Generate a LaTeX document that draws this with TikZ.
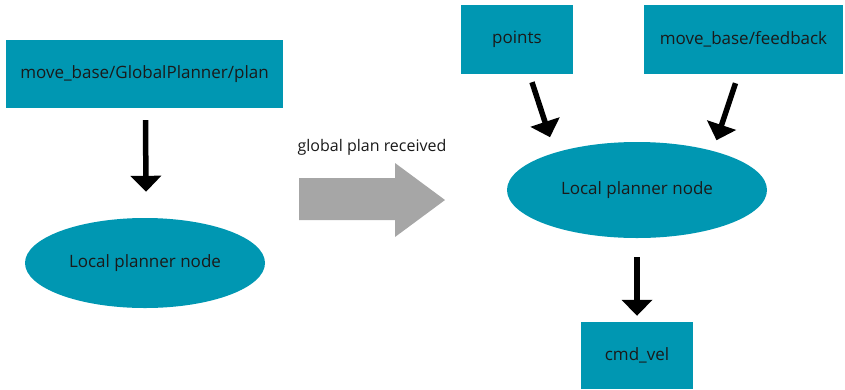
\documentclass[tikz,border=0pt]{standalone}
\usepackage{fontspec}
\setmainfont{Open Sans}
\usetikzlibrary{shapes.geometric,arrows.meta,calc}
\definecolor{teal1}{HTML}{0097B2}
\definecolor{arrowgray}{HTML}{A6A6A6}
\definecolor{labeltext}{HTML}{1A1A1A}
\tikzset{
  topicbox/.style={rectangle, fill=teal1, inner sep=0pt, text=labeltext, font=\fontsize{17}{20}\selectfont},
  nodeoval/.style={ellipse, fill=teal1, inner sep=0pt, text=labeltext, font=\fontsize{17}{20}\selectfont},
  flow/.style={line width=5.5pt, -{Triangle[width=30pt,length=16pt]}},
}
\begin{document}
\begin{tikzpicture}[x=1pt,y=-1pt]
  \useasboundingbox (0,0) rectangle (845,389);
  % left side: global plan topic feeding the local planner
  \node[topicbox, minimum width=277pt, minimum height=68pt] (plan) at (144.5,74) {move\_base/GlobalPlanner/plan};
  \node[nodeoval, minimum width=240pt, minimum height=90pt] (lp1) at (145,263) {Local planner node};
  \draw[flow] ($(plan.south)+(1,12)$) -- ($(lp1.north)+(1,-26)$);

  % transition arrow
  \node[font=\fontsize{16}{19}\selectfont, text=labeltext] (lbl) at (372,147) {global plan received};
  \fill[arrowgray] (299,178) -- (395,178) -- (395,163) -- (445,200) -- (395,237) -- (395,220) -- (299,220) -- cycle;

  % right side: inputs and output of the local planner
  \node[topicbox, minimum width=112pt, minimum height=69pt] (pts) at (517,39.5) {points};
  \node[topicbox, minimum width=199pt, minimum height=69pt] (fb) at (743.5,39.5) {move\_base/feedback};
  \node[nodeoval, minimum width=260pt, minimum height=96pt] (lp2) at (637,190) {Local planner node};
  \node[topicbox, minimum width=112pt, minimum height=67pt] (cmd) at (637,355.5) {cmd\_vel};

  \draw[flow] ($(pts.south)+(15,8)$) -- ($(pts.south)+(33,63)$);
  \draw[flow] ($(fb.south)+(-8,9)$) -- ($(fb.south)+(-27,66)$);
  \draw[flow] ($(lp2.south)+(0,19)$) -- ($(cmd.north)+(0,-6)$);
\end{tikzpicture}
\end{document}
